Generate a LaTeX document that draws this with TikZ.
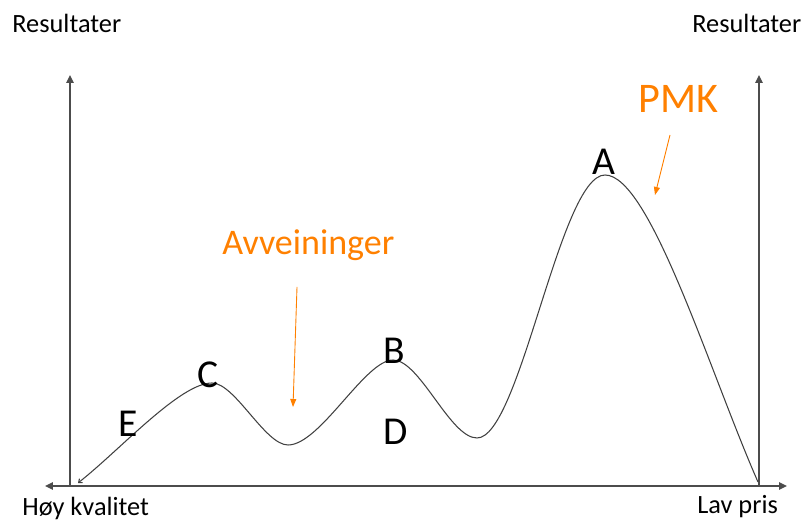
\documentclass[tikz,border=0pt]{standalone}
\usepackage{fontspec}
\setmainfont{Carlito}
\usepackage{xcolor}
\usetikzlibrary{arrows.meta}
\definecolor{pmkorange}{RGB}{255,128,0}

\begin{document}
\begin{tikzpicture}[
  x=0.02cm, y=0.02cm,
  axis/.style={draw=black!70, line width=0.8pt},
  tri/.style={-{Triangle[length=1.6mm, width=1.5mm]}},
  curve/.style={draw=black!75, line width=0.6pt},
  lbl/.style={inner sep=0pt, anchor=base west, font=\fontsize{15}{18}\selectfont},
  letter/.style={inner sep=0pt, anchor=base, font=\fontsize{22.5}{26}\selectfont},
  note/.style={inner sep=0pt, anchor=base west, text=pmkorange},
  warr/.style={-{Triangle[length=1.6mm, width=1.2mm]}, draw=pmkorange, line width=0.5pt}
]
  \useasboundingbox (0,0) rectangle (805,523);

  % axes
  \coordinate (xl) at (45,37);
  \coordinate (xr) at (787,37);
  \coordinate (yl0) at (70,37);
  \coordinate (yl1) at (70,448);
  \coordinate (yr0) at (759,37);
  \coordinate (yr1) at (759,448);
  \draw[axis, {Triangle[length=1.6mm, width=1.5mm]}-{Triangle[length=1.6mm, width=1.5mm]}] (xl) -- (xr);
  \draw[axis, tri] (yl0) -- (yl1);
  \draw[axis, tri] (yr0) -- (yr1);

  \node[lbl] (resl) at (12,490) {Resultater};
  \node[lbl] (resr) at (692,490) {Resultater};
  \node[lbl] (hoy) at (22,7) {Høy kvalitet};
  \node[lbl] (lav) at (697,9) {Lav pris};

  % the curve
  \coordinate (start) at (78,40);
  \coordinate (pc) at (212,140);
  \coordinate (v1) at (288,78);
  \coordinate (pb) at (393,163);
  \coordinate (v2) at (477,85);
  \coordinate (pa) at (605,348);
  \coordinate (stop) at (758,41);
  \draw[curve, {Straight Barb[length=0.6mm, width=1mm]}-] (start)
    .. controls (120,73) and (180,140) .. (pc)
    .. controls (235,140) and (265,78) .. (v1)
    .. controls (320,78) and (365,163) .. (pb)
    .. controls (420,163) and (450,85) .. (v2)
    .. controls (520,85) and (560,348) .. (pa)
    .. controls (650,348) and (710,150) .. (stop);

  \node[letter] (a) at (604,348) {A};
  \node[letter] (b) at (394,159) {B};
  \node[letter] (c) at (208,135) {C};
  \node[letter] (d) at (396,78) {D};
  \node[letter] (e) at (128,86) {E};

  % orange notes
  \node[note, font=\fontsize{24}{28}\selectfont] (pmk) at (638,410) {PMK};
  \node[note, font=\fontsize{20.5}{24}\selectfont] (avv) at (222,268) {Avveininger};
  \coordinate (pmktail) at (670,388);
  \coordinate (pmkhead) at (655,328);
  \coordinate (avvtail) at (297,236);
  \coordinate (avvhead) at (293,116);
  \draw[warr] (pmktail) -- (pmkhead);
  \draw[warr] (avvtail) -- (avvhead);
\end{tikzpicture}
\end{document}
